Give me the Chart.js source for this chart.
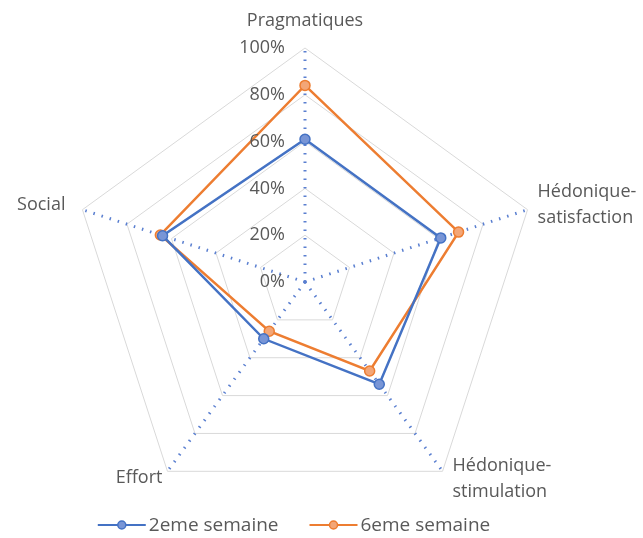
<!DOCTYPE html>
<html lang="fr">
  <head>
    <meta charset="UTF-8" />
    <title>Radar semaines</title>
    <script src="https://cdn.jsdelivr.net/npm/chart.js"></script>
    <style>
      html, body { margin: 0; padding: 0; background: #fff; }
      #wrap { width: 643px; height: 538px; }
    </style>
  </head>
  <body>
    <div id="wrap"><canvas id="radarChart"></canvas></div>

    <script>
      // axes of the radar (line breaks as in the original)
      const axes = [
        ["Pragmatiques"],
        ["Hédonique-", "satisfaction"],
        ["Hédonique-", "stimulation"],
        ["Effort"],
        ["Social"],
      ];
      // values in %
      const week2 = [61, 61, 54, 30, 64];
      const week6 = [84, 69, 47, 26, 65];
      const tickValues = [0, 20, 40, 60, 80, 100];
      const seriesNames = ["2eme semaine", "6eme semaine"];

      const blue = "#4472C4";
      const orange = "#ED7D31";
      const grey = "#595959";
      const font = "'Open Sans'";

      // where each axis title sits next to its outer corner
      // [dx, dy of first line, align]
      const labelPlace = [
        [0, -27, "center"],
        [10, -18, "left"],
        [10, -5, "left"],
        [-5, 7, "right"],
        [-17, -5, "right"],
      ];

      // axis titles, tick labels and legend (Excel look)
      const extras = {
        id: "extras",
        afterDraw(chart) {
          const s = chart.scales.r;
          const ctx = chart.ctx;
          ctx.save();
          ctx.fillStyle = grey;
          ctx.textBaseline = "middle";

          // tick labels left of the vertical axis
          ctx.font = "18px " + font;
          ctx.textAlign = "right";
          tickValues.forEach((v) => {
            const p = s.getPointPositionForValue(0, v);
            ctx.fillText(v + "%", p.x - 20, p.y);
          });

          // axis titles
          axes.forEach((lines, i) => {
            const p = s.getPointPosition(i, s.drawingArea);
            const [dx, dy, align] = labelPlace[i];
            ctx.textAlign = align;
            lines.forEach((t, k) => {
              ctx.fillText(t, p.x + dx, p.y + dy + k * 26);
            });
          });

          // legend
          ctx.font = "19px " + font;
          ctx.textAlign = "left";
          const y = 525;
          const mark = 48;
          const items = chart.data.datasets.map((ds) => ({
            ds: ds,
            w: mark + 3 + ctx.measureText(ds.label).width,
          }));
          const gap = 31;
          const total = items.reduce((a, it) => a + it.w, 0) + gap * (items.length - 1);
          let x = 294 - total / 2;
          items.forEach((it) => {
            ctx.strokeStyle = it.ds.borderColor;
            ctx.lineWidth = 2;
            ctx.beginPath();
            ctx.moveTo(x, y);
            ctx.lineTo(x + mark, y);
            ctx.stroke();
            ctx.fillStyle = it.ds.pointBackgroundColor;
            ctx.beginPath();
            ctx.arc(x + mark / 2, y, 4, 0, Math.PI * 2);
            ctx.fill();
            ctx.lineWidth = 1.5;
            ctx.stroke();
            ctx.fillStyle = grey;
            ctx.fillText(it.ds.label, x + mark + 3, y + 1);
            x += it.w + gap;
          });
          ctx.restore();
        },
      };

      new Chart(document.getElementById("radarChart"), {
        type: "radar",
        data: {
          labels: axes,
          datasets: [
            {
              label: seriesNames[0],
              data: week2,
              borderColor: blue,
              borderWidth: 2.5,
              pointRadius: 5,
              pointBorderWidth: 1.5,
              pointBackgroundColor: "#7895d6",
              pointBorderColor: blue,
              fill: false,
            },
            {
              label: seriesNames[1],
              data: week6,
              borderColor: orange,
              borderWidth: 2.5,
              pointRadius: 5,
              pointBorderWidth: 1.5,
              pointBackgroundColor: "#f3a677",
              pointBorderColor: orange,
              fill: false,
            },
          ],
        },
        options: {
          responsive: true,
          maintainAspectRatio: false,
          animation: false,
          layout: { padding: { top: 48, left: 0, right: 33, bottom: 22 } },
          scales: {
            r: {
              min: 0,
              max: 100,
              ticks: { stepSize: 20, display: false },
              grid: { color: "#d9d9d9", lineWidth: 1 },
              angleLines: {
                color: "#5a7fd0",
                lineWidth: 3,
                borderDash: [1.5, 7],
              },
              pointLabels: { display: false },
            },
          },
          plugins: {
            tooltip: { enabled: false },
            legend: { display: false },
          },
        },
        plugins: [extras],
      });
    </script>
  </body>
</html>
